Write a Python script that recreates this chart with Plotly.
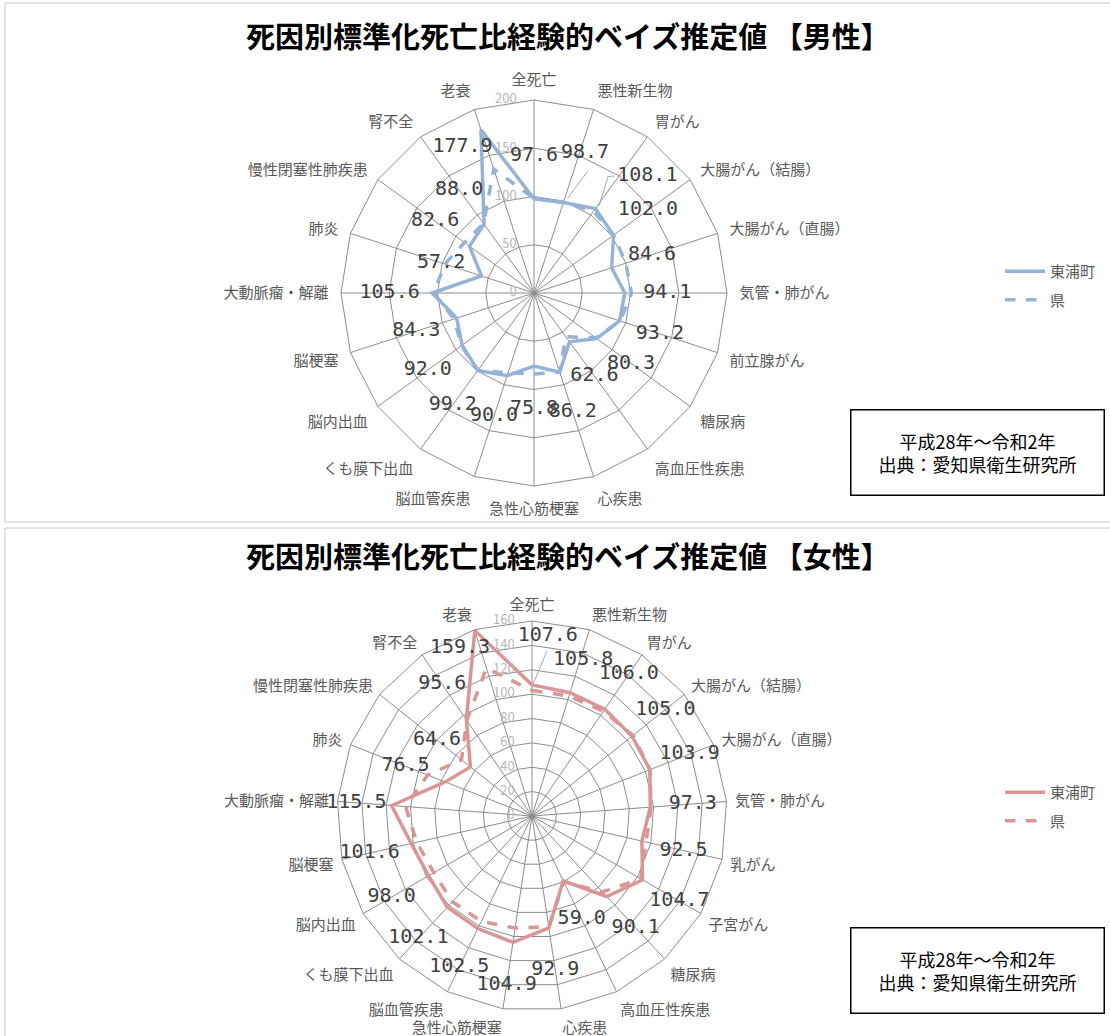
import plotly.graph_objects as go

# ---------------------------------------------------------------- data
male_categories = [
    "全死亡", "悪性新生物", "胃がん", "大腸がん（結腸）", "大腸がん（直腸）",
    "気管・肺がん", "前立腺がん", "糖尿病", "高血圧性疾患", "心疾患",
    "急性心筋梗塞", "脳血管疾患", "くも膜下出血", "脳内出血", "脳梗塞",
    "大動脈瘤・解離", "肺炎", "慢性閉塞性肺疾患", "腎不全", "老衰",
]
male_town = [97.6, 98.7, 108.1, 102.0, 84.6, 94.1, 93.2, 80.3, 62.6, 86.2,
             75.8, 90.0, 99.2, 92.0, 84.3, 105.6, 57.2, 82.6, 88.0, 177.9]
male_pref = [98.0, 99.0, 105.0, 102.0, 100.0, 101.0, 94.0, 79.0, 56.0, 86.0,
             84.0, 87.0, 99.0, 93.0, 87.0, 104.0, 97.0, 89.0, 89.0, 135.0]
male_ticks = [0, 50, 100, 150, 200]

female_categories = [
    "全死亡", "悪性新生物", "胃がん", "大腸がん（結腸）", "大腸がん（直腸）",
    "気管・肺がん", "乳がん", "子宮がん", "糖尿病", "高血圧性疾患", "心疾患",
    "急性心筋梗塞", "脳血管疾患", "くも膜下出血", "脳内出血", "脳梗塞",
    "大動脈瘤・解離", "肺炎", "慢性閉塞性肺疾患", "腎不全", "老衰",
]
female_town = [107.6, 105.8, 106.0, 105.0, 103.9, 97.3, 92.5, 104.7, 90.1, 59.0,
               92.9, 104.9, 102.5, 102.1, 98.0, 101.6, 115.5, 76.5, 64.6, 95.6, 159.3]
female_pref = [103.0, 103.0, 104.0, 106.0, 104.0, 98.0, 96.0, 103.0, 85.0, 60.0,
               92.0, 93.0, 96.0, 96.0, 93.0, 97.0, 104.0, 92.0, 74.0, 95.0, 127.0]
female_ticks = [0, 20, 40, 60, 80, 100, 120, 140, 160]

series_names = ["東浦町", "県"]
period_note = "平成28年～令和2年<br>出典：愛知県衛生研究所"

# ---------------------------------------------------------------- styling
W, H = 1110, 1036
JP = "Noto Sans CJK JP"
MONO = "DejaVu Sans Mono"
GRID = "#8c8c8c"
LABEL_GREY = "#595959"
BLUE = "#95b3d7"
PINK = "#d99694"


def px_domain(cx, cy, r):
    return dict(x=[(cx - r) / W, (cx + r) / W],
                y=[1 - (cy + r) / H, 1 - (cy - r) / H])


charts = [
    dict(title="死因別標準化死亡比経験的ベイズ推定値 【男性】",
         cats=male_categories, town=male_town, pref=male_pref,
         ticks=male_ticks, color=BLUE, rmax=200,
         center=(534, 293), radius=193, ticklen=9, title_y=35,
         legend="legend", legend_y=255, note_y=453,
         label_off=44,
         # per-label (radial shift, angular shift in degrees)
         label_adj={"悪性新生物": (56, 2), "胃がん": (61, 8), "老衰": (-9, -8)},
         leaders=[[(104, 19.5), (138, 23.8)],
                  [(113, 36.7), (143, 32.4), (147, 34.5)]]),
    dict(title="死因別標準化死亡比経験的ベイズ推定値 【女性】",
         cats=female_categories, town=female_town, pref=female_pref,
         ticks=female_ticks, color=PINK, rmax=160,
         center=(532, 816), radius=195, ticklen=5, title_y=555,
         legend="legend2", legend_y=776, note_y=970,
         label_off=35,
         label_adj={"全死亡": (41, 5), "悪性新生物": (29, 1),
                    "大動脈瘤・解離": (29, 0), "老衰": (-9, -6)},
         leaders=[[(136, 5.2), (108, 0.4)]]),
]

fig = go.Figure()
layout = dict(
    width=W, height=H, margin=dict(l=0, r=0, t=0, b=0),
    paper_bgcolor="white", plot_bgcolor="white",
    font=dict(family=JP, color=LABEL_GREY, size=14),
    annotations=[], shapes=[],
)

for k, c in enumerate(charts):
    main = "polar" if k == 0 else "polar%d" % (2 * k + 1)
    over = "polar%d" % (2 * k + 2)
    cx, cy = c["center"]
    dom = px_domain(cx, cy, c["radius"])
    n = len(c["cats"])
    step = 360.0 / n

    cats_closed = c["cats"] + c["cats"][:1]
    for name, vals, dash in [(series_names[0], c["town"], "solid"),
                             (series_names[1], c["pref"], "dash")]:
        fig.add_trace(go.Scatterpolar(
            r=vals + vals[:1], theta=cats_closed, mode="lines", name=name,
            line=dict(color=c["color"], width=3.5, dash=dash),
            subplot=main, legend=c["legend"], legendgroup=name + str(k),
            hoverinfo="skip",
        ))

    # radial scale numbers, set just left of the vertical spoke
    fig.add_trace(go.Scatterpolar(
        r=c["ticks"], theta=[0] * len(c["ticks"]), mode="markers+text",
        text=[str(t) for t in c["ticks"]], textposition="middle left",
        marker=dict(size=26, color="rgba(0,0,0,0)"),
        textfont=dict(family=JP, size=13, color="#b8b8b8"),
        subplot=over, showlegend=False, cliponaxis=False, hoverinfo="skip",
    ))

    # value labels on a transparent overlay with a numeric angular axis
    lab_r, lab_t = [], []
    for i, (cat, v) in enumerate(zip(c["cats"], c["town"])):
        dr, dt = c["label_adj"].get(cat, (c["label_off"], 0))
        lab_r.append(v + dr)
        lab_t.append(i * step + dt)
    fig.add_trace(go.Scatterpolar(
        r=lab_r, theta=lab_t, mode="text",
        text=["%.1f" % v for v in c["town"]],
        textfont=dict(family=MONO, size=20, color="#404040"),
        textposition="middle center", subplot=over, showlegend=False,
        cliponaxis=False, hoverinfo="skip",
    ))
    for seg in c["leaders"]:
        fig.add_trace(go.Scatterpolar(
            r=[p[0] for p in seg], theta=[p[1] for p in seg], mode="lines",
            line=dict(color="#a6a6a6", width=1), subplot=over,
            showlegend=False, cliponaxis=False, hoverinfo="skip",
        ))

    layout[main] = dict(
        domain=dom, bgcolor="white", gridshape="linear",
        radialaxis=dict(range=[0, c["rmax"]], tickvals=c["ticks"], angle=90,
                        showline=False, gridcolor=GRID, gridwidth=1,
                        ticks="", showticklabels=False),
        angularaxis=dict(type="category", categoryarray=c["cats"],
                         rotation=90, direction="clockwise",
                         showline=True, linecolor=GRID, linewidth=1,
                         gridcolor=GRID, gridwidth=1,
                         ticks="outside", ticklen=c["ticklen"],
                         tickcolor="rgba(0,0,0,0)",
                         tickfont=dict(family=JP, size=15, color=LABEL_GREY)),
    )
    layout[over] = dict(
        domain=dom, bgcolor="rgba(0,0,0,0)",
        radialaxis=dict(range=[0, c["rmax"]], visible=False, showgrid=False),
        angularaxis=dict(type="linear", thetaunit="degrees", rotation=90,
                         direction="clockwise", visible=False, showgrid=False),
    )

    layout[c["legend"]] = dict(
        x=1000 / W, y=1 - c["legend_y"] / H, xanchor="left", yanchor="top",
        bgcolor="rgba(0,0,0,0)", font=dict(family=JP, size=15, color=LABEL_GREY),
        tracegroupgap=6, itemwidth=40,
    )

    layout["annotations"].append(dict(
        text="<b>" + c["title"] + "</b>", x=568 / W, y=1 - c["title_y"] / H,
        xref="paper", yref="paper", showarrow=False, xanchor="center",
        yanchor="middle", font=dict(family=JP, size=29, color="#000000"),
    ))
    layout["annotations"].append(dict(
        text=period_note, x=977 / W, y=1 - c["note_y"] / H,
        xref="paper", yref="paper", showarrow=False, xanchor="center",
        yanchor="middle", width=248, height=80, align="center", valign="middle",
        bordercolor="#000000", borderwidth=1.5, borderpad=2,
        font=dict(family=JP, size=18, color="#000000"),
    ))

# panel frames
for y0, y1 in [(3, 522), (528, 1040)]:
    layout["shapes"].append(dict(
        type="rect", xref="paper", yref="paper",
        x0=5 / W, x1=1120 / W, y0=1 - y1 / H, y1=1 - y0 / H,
        line=dict(color="#c8c8c8", width=1), fillcolor="rgba(0,0,0,0)",
        layer="below",
    ))

fig.update_layout(**layout)
fig.write_html("out.html")
